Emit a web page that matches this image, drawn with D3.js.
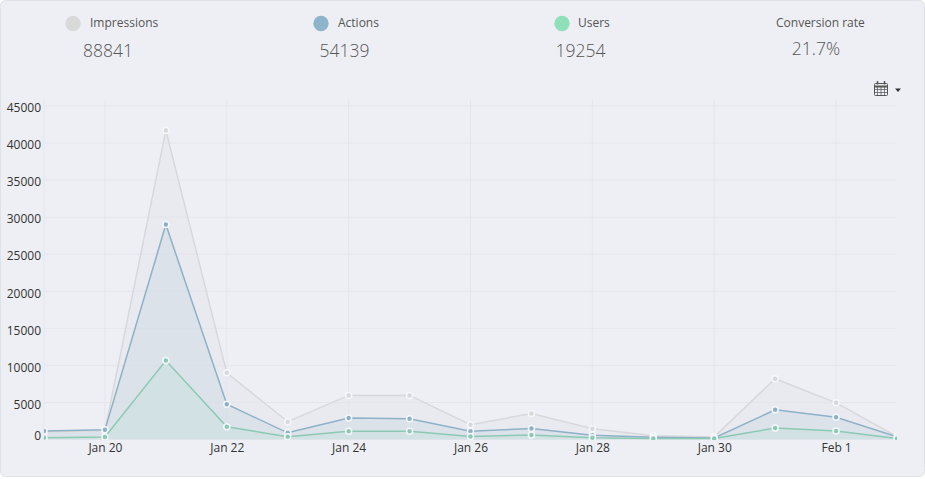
<!DOCTYPE html>
<html lang="en">

<head>
    <meta charset="UTF-8">
    <title>Impressions, actions and users</title>
    <script src="https://d3js.org/d3.v7.min.js"></script>
    <style>
        html, body {
            margin: 0;
            background: #fff;
        }

        svg {
            display: block;
            font-family: "Open Sans", sans-serif;
        }

        .grid line {
            stroke: #e5e6ec;
            stroke-width: 1;
        }

        .axis text {
            font-size: 12px;
            fill: #333;
            font-family: "Open Sans", sans-serif;
        }

        .axis path, .axis line {
            display: none;
        }

        .stat-label {
            font-size: 12px;
            fill: #555;
        }

        .stat-value {
            font-size: 17.5px;
            font-weight: 300;
            fill: #555;
        }
    </style>
</head>

<body>
    <script>
        const days = ["2017-01-19", "2017-01-20", "2017-01-21", "2017-01-22", "2017-01-23", "2017-01-24", "2017-01-25", "2017-01-26",
            "2017-01-27", "2017-01-28", "2017-01-29", "2017-01-30", "2017-01-31", "2017-02-01", "2017-02-02"];
        const impressions = [1000, 1200, 41700, 9000, 2400, 5950, 5950, 2000, 3500, 1450, 500, 350, 8200, 4950, 400];
        const actions = [1150, 1300, 29000, 4750, 900, 2900, 2800, 1100, 1500, 570, 300, 200, 4000, 3000, 380];
        const users = [250, 350, 10650, 1730, 380, 1100, 1100, 400, 600, 230, 150, 130, 1550, 1150, 130];

        const yTicks = [0, 5000, 10000, 15000, 20000, 25000, 30000, 35000, 40000, 45000];
        const xTickDays = ["2017-01-20", "2017-01-22", "2017-01-24", "2017-01-26", "2017-01-28", "2017-01-30", "2017-02-01"];
        const xTickLabels = ["Jan 20", "Jan 22", "Jan 24", "Jan 26", "Jan 28", "Jan 30", "Feb 1"];

        const statLabels = ["Impressions", "Actions", "Users", "Conversion rate"];
        const statValues = ["88841", "54139", "19254", "21.7%"];
        const statColors = ["#d9d9d9", "#8db4cb", "#8fdfb9", null];

        const width = 925;
        const height = 479;
        const plot = { left: 44, right: 897, top: 106, bottom: 439.5 };
        const parseDay = d3.utcParse("%Y-%m-%d");

        const x = d3.scaleUtc()
            .domain([parseDay(days[0]), parseDay(days[days.length - 1])])
            .range([plot.left, plot.right]);
        const y = d3.scaleLinear()
            .domain([0, 45000])
            .range([plot.bottom, plot.top]);

        const svg = d3.select("body")
            .append("svg")
            .attr("width", width)
            .attr("height", height);

        // panel behind everything
        svg.append("rect")
            .attr("x", 0.5)
            .attr("y", 0.5)
            .attr("width", width - 1)
            .attr("height", height - 3)
            .attr("rx", 5)
            .attr("fill", "#eeeff4")
            .attr("stroke", "#e0e2e8");

        svg.append("clipPath")
            .attr("id", "plot-clip")
            .append("rect")
            .attr("x", plot.left)
            .attr("y", plot.top - 6)
            .attr("width", plot.right - plot.left)
            .attr("height", plot.bottom - plot.top + 6.5);

        // grid
        const grid = svg.append("g").attr("class", "grid");
        grid.selectAll(".h")
            .data(yTicks.slice(1))
            .enter().append("line")
            .attr("x1", plot.left)
            .attr("x2", plot.right - 1)
            .attr("y1", d => y(d))
            .attr("y2", d => y(d));
        grid.selectAll(".v")
            .data([days[0]].concat(xTickDays))
            .enter().append("line")
            .attr("x1", d => x(parseDay(d)))
            .attr("x2", d => x(parseDay(d)))
            .attr("y1", plot.top - 6)
            .attr("y2", plot.bottom);

        // series, back to front
        const series = [
            { values: impressions, color: statColors[0], fill: "#e3e5ea", line: "#d8d8da", opacity: 0.45 },
            { values: actions, color: statColors[1], fill: "#cfdbe6", line: "#8db1c7", opacity: 0.55 },
            { values: users, color: statColors[2], fill: "#c5e3dc", line: "#8cc9b4", opacity: 0.4 }
        ];

        const area = d3.area()
            .x((d, i) => x(parseDay(days[i])))
            .y0(plot.bottom)
            .y1(d => y(d));
        const line = d3.line()
            .x((d, i) => x(parseDay(days[i])))
            .y(d => y(d));

        const chart = svg.append("g").attr("clip-path", "url(#plot-clip)");

        series.forEach(s => {
            chart.append("path")
                .attr("d", area(s.values))
                .attr("fill", s.fill)
                .attr("opacity", s.opacity);
        });

        series.forEach(s => {
            chart.append("path")
                .attr("d", line(s.values))
                .attr("fill", "none")
                .attr("stroke", s.line)
                .attr("stroke-width", 1.5);
            chart.selectAll(null)
                .data(s.values)
                .enter().append("circle")
                .attr("cx", (d, i) => x(parseDay(days[i])))
                .attr("cy", d => y(d))
                .attr("r", 3)
                .attr("fill", s.line)
                .attr("stroke", "#f6f7fa")
                .attr("stroke-width", 1.5);
        });

        // axes
        const yAxis = svg.append("g")
            .attr("class", "axis")
            .attr("transform", `translate(${plot.left - 3},0)`)
            .call(d3.axisLeft(y).tickValues(yTicks).tickSize(0).tickPadding(0).tickFormat(d3.format("d")));
        yAxis.selectAll("text")
            .attr("dy", d => d === 0 ? "0.02em" : "0.48em");

        const xAxis = svg.append("g")
            .attr("class", "axis")
            .attr("transform", `translate(0,${plot.bottom})`)
            .call(d3.axisBottom(x)
                .tickValues(xTickDays.map(parseDay))
                .tickSize(0)
                .tickPadding(4)
                .tickFormat((d, i) => xTickLabels[i]));

        // header stats
        const statSwatchX = [73, 321, 562, null];
        const statLabelX = [90, 338, 578, 776];
        const statValueX = [108, 344.5, 580.5, 816];

        statLabels.forEach((label, i) => {
            if (statColors[i]) {
                svg.append("circle")
                    .attr("cx", statSwatchX[i])
                    .attr("cy", 23.5)
                    .attr("r", 7.7)
                    .attr("fill", statColors[i]);
            }
            svg.append("text")
                .attr("class", "stat-label")
                .attr("x", statLabelX[i])
                .attr("y", 27)
                .text(label);
            svg.append("text")
                .attr("class", "stat-value")
                .attr("x", statValueX[i])
                .attr("y", i === 3 ? 55 : 57)
                .attr("text-anchor", "middle")
                .text(statValues[i]);
        });

        // calendar button
        const cal = svg.append("g")
            .attr("transform", "translate(874,81)")
            .attr("fill", "none")
            .attr("stroke", "#555")
            .attr("stroke-width", 1);
        cal.append("rect").attr("x", 0.5).attr("y", 2.5).attr("width", 13).attr("height", 12).attr("rx", 1);
        cal.append("line").attr("x1", 0.5).attr("x2", 13.5).attr("y1", 5.5).attr("y2", 5.5).attr("stroke-width", 2);
        [8, 11].forEach(v => cal.append("line").attr("x1", 0.5).attr("x2", 13.5).attr("y1", v + 0.5).attr("y2", v + 0.5).attr("stroke-width", 0.7));
        [3.5, 7, 10.5].forEach(v => cal.append("line").attr("x1", v).attr("x2", v).attr("y1", 6).attr("y2", 14.5).attr("stroke-width", 0.7));
        [3.5, 10.5].forEach(v => cal.append("line").attr("x1", v).attr("x2", v).attr("y1", 0).attr("y2", 3.5).attr("stroke-width", 1.5));

        svg.append("path")
            .attr("d", d3.line()([[895, 88.5], [901, 88.5], [898, 92]]) + "Z")
            .attr("fill", "#333");
    </script>
</body>

</html>
